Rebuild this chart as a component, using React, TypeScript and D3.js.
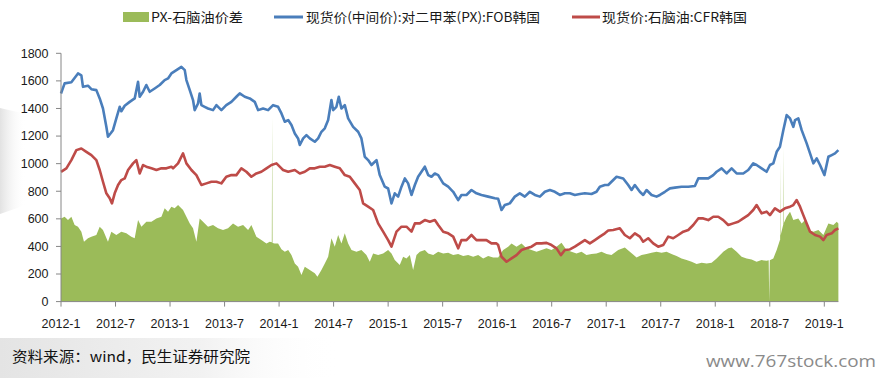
import React from 'react';
import * as d3 from 'd3';

// Month offsets since 2012-01 for tick labels
const xTickMonths = [0, 6, 12, 18, 24, 30, 36, 42, 48, 54, 60, 66, 72, 78, 84];
const xTickLabels = ['2012-1', '2012-7', '2013-1', '2013-7', '2014-1', '2014-7', '2015-1', '2015-7', '2016-1', '2016-7', '2017-1', '2017-7', '2018-1', '2018-7', '2019-1'];
const yTicks = [0, 200, 400, 600, 800, 1000, 1200, 1400, 1600, 1800];

const legendLabels = ['PX-石脑油价差', '现货价(中间价):对二甲苯(PX):FOB韩国', '现货价:石脑油:CFR韩国'];
const sourceText = '资料来源：wind，民生证券研究院';
const watermarkText = 'www.767stock.com';

// [month offset since 2012-01, value]
const spreadSeries: [number, number][] = [
  [0, 603], [0.4, 615], [0.77, 591], [1.14, 615], [1.5, 555], [1.87, 543], [2.24, 507], [2.53, 434], [2.97, 459], [3.34, 471], [3.89, 483], [4.26, 543], [4.62, 519], [5.17, 434], [5.54, 507], [6.09, 483], [6.64, 507], [7.19, 495], [7.74, 471], [8.11, 459], [8.48, 591], [8.85, 543], [9.39, 579], [9.95, 579], [10.5, 603], [11.05, 615], [11.41, 676], [11.78, 652], [12.15, 688], [12.51, 676], [12.88, 700], [13.43, 664], [13.8, 615], [14.17, 567], [14.53, 531], [14.9, 434], [15.26, 603], [15.63, 579], [16.18, 543], [16.73, 555], [17.28, 531], [17.83, 519], [18.38, 531], [18.93, 567], [19.48, 543], [20.04, 555], [20.59, 519], [20.95, 555], [21.5, 471], [22.05, 446], [22.61, 422], [22.97, 434], [23.2, 430], [23.24, 1340], [23.28, 425], [23.52, 422], [23.89, 422], [24.26, 380], [24.63, 362], [25.0, 374], [25.36, 337], [25.73, 277], [26.09, 253], [26.46, 193], [26.83, 253], [27.38, 229], [27.93, 205], [28.22, 181], [28.66, 229], [29.03, 277], [29.4, 325], [29.76, 459], [30.13, 398], [30.5, 483], [30.86, 422], [31.23, 495], [31.6, 422], [31.97, 374], [32.51, 362], [33.06, 374], [33.61, 337], [33.98, 289], [34.35, 349], [34.9, 337], [35.45, 349], [36.0, 374], [36.37, 349], [36.73, 301], [37.28, 265], [37.65, 325], [38.02, 313], [38.39, 337], [38.75, 229], [39.12, 337], [39.49, 362], [40.04, 374], [40.41, 349], [40.96, 337], [41.51, 362], [42.06, 349], [42.61, 354], [43.16, 337], [43.71, 345], [44.26, 330], [44.81, 337], [45.36, 325], [45.91, 337], [46.46, 313], [47.01, 330], [47.56, 320], [48.11, 320], [48.66, 374], [49.21, 398], [49.58, 422], [50.13, 398], [50.68, 422], [51.23, 386], [51.78, 374], [52.33, 362], [52.88, 374], [53.43, 386], [53.98, 374], [54.53, 398], [55.08, 426], [55.63, 374], [56.18, 362], [56.73, 349], [57.28, 362], [57.83, 337], [58.38, 345], [58.93, 349], [59.48, 362], [60.04, 345], [60.58, 337], [61.32, 374], [62.05, 393], [62.6, 362], [63.34, 320], [63.89, 337], [64.44, 345], [64.99, 354], [65.54, 362], [66.09, 354], [66.64, 362], [67.19, 345], [67.74, 330], [68.29, 313], [68.84, 301], [69.4, 289], [69.95, 272], [70.5, 282], [71.05, 277], [71.6, 282], [72.15, 313], [72.7, 349], [72.88, 362], [73.43, 386], [73.8, 393], [74.35, 362], [74.9, 325], [75.45, 313], [76.0, 306], [76.55, 289], [77.1, 301], [77.65, 296], [77.88, 300], [77.94, 0], [78.0, 300], [78.39, 313], [78.76, 374], [79.12, 446], [79.14, 446], [79.16, 1014], [79.19, 480], [79.49, 560], [79.52, 1122], [79.55, 570], [79.86, 615], [80.23, 652], [80.59, 591], [81.14, 603], [81.51, 567], [81.88, 591], [82.25, 519], [82.8, 507], [83.35, 519], [83.9, 483], [84.45, 567], [85.0, 555], [85.37, 579], [85.55, 567],
];

const pxSeries: [number, number][] = [
  [0, 1509], [0.4, 1582], [1.14, 1590], [1.87, 1654], [2.24, 1640], [2.42, 1557], [2.97, 1565], [3.34, 1540], [3.89, 1533], [4.26, 1473], [4.62, 1400], [4.99, 1267], [5.17, 1195], [5.47, 1220], [5.72, 1243], [6.09, 1328], [6.46, 1412], [6.64, 1380], [7.01, 1420], [7.56, 1448], [8.11, 1473], [8.48, 1593], [8.66, 1485], [9.03, 1521], [9.39, 1570], [9.76, 1521], [10.31, 1545], [10.86, 1570], [11.41, 1606], [11.78, 1618], [12.15, 1654], [12.7, 1678], [13.25, 1702], [13.62, 1678], [13.8, 1606], [14.17, 1533], [14.53, 1461], [14.71, 1388], [15.08, 1436], [15.26, 1509], [15.45, 1424], [15.81, 1412], [16.18, 1400], [16.73, 1388], [17.1, 1424], [17.65, 1388], [18.19, 1424], [18.75, 1448], [19.3, 1485], [19.67, 1509], [20.22, 1485], [20.77, 1473], [21.32, 1448], [21.69, 1388], [22.24, 1400], [22.79, 1388], [23.34, 1424], [23.89, 1412], [24.26, 1364], [24.63, 1304], [25.0, 1316], [25.36, 1280], [25.73, 1219], [26.09, 1183], [26.28, 1135], [26.65, 1183], [27.01, 1207], [27.38, 1183], [27.93, 1159], [28.3, 1183], [28.66, 1231], [29.03, 1256], [29.4, 1316], [29.76, 1461], [29.95, 1388], [30.31, 1412], [30.57, 1485], [30.86, 1400], [31.23, 1424], [31.6, 1328], [32.15, 1267], [32.7, 1231], [33.06, 1183], [33.43, 1050], [33.8, 1026], [34.17, 990], [34.72, 1026], [35.08, 917], [35.63, 833], [36.0, 820], [36.37, 712], [36.73, 785], [37.1, 761], [37.47, 833], [37.84, 893], [38.2, 857], [38.57, 773], [38.94, 845], [39.3, 905], [39.67, 941], [40.04, 978], [40.41, 917], [40.77, 905], [41.14, 929], [41.51, 917], [42.06, 857], [42.61, 833], [43.16, 796], [43.71, 736], [44.07, 773], [44.62, 773], [45.17, 809], [45.72, 785], [46.27, 773], [47.01, 761], [47.74, 749], [48.11, 745], [48.48, 664], [48.84, 700], [49.39, 712], [49.94, 761], [50.49, 785], [51.04, 761], [51.6, 796], [52.15, 773], [52.7, 761], [53.25, 796], [53.8, 809], [54.35, 796], [54.9, 773], [55.45, 785], [56.0, 785], [56.55, 773], [57.1, 780], [57.65, 785], [58.38, 780], [58.93, 796], [59.3, 833], [59.85, 845], [60.22, 845], [60.58, 869], [61.14, 905], [61.87, 893], [62.42, 845], [62.79, 809], [63.15, 845], [63.7, 796], [64.07, 773], [64.44, 809], [64.99, 773], [65.54, 761], [65.91, 773], [66.46, 796], [67.01, 821], [67.56, 826], [68.29, 833], [69.03, 833], [69.76, 838], [70.13, 893], [70.68, 893], [71.23, 893], [71.78, 917], [72.15, 941], [72.7, 966], [73.25, 929], [73.8, 966], [74.35, 929], [75.08, 929], [75.63, 954], [76.18, 1002], [76.55, 990], [77.1, 966], [77.65, 941], [78.02, 990], [78.39, 1002], [78.76, 1086], [79.12, 1122], [79.49, 1243], [79.86, 1352], [80.23, 1328], [80.59, 1267], [80.78, 1316], [81.14, 1328], [81.51, 1243], [82.06, 1147], [82.43, 1074], [82.8, 1002], [83.16, 1038], [83.53, 990], [84.01, 917], [84.45, 1050], [84.82, 1062], [85.18, 1074], [85.55, 1098],
];

const naphthaSeries: [number, number][] = [
  [0, 941], [0.59, 966], [1.14, 1026], [1.69, 1098], [2.24, 1110], [2.79, 1086], [3.34, 1062], [3.89, 1026], [4.26, 954], [4.62, 869], [4.99, 785], [5.36, 749], [5.61, 712], [5.91, 785], [6.28, 845], [6.64, 881], [7.01, 893], [7.38, 954], [7.93, 1002], [8.29, 1026], [8.66, 929], [9.03, 990], [9.39, 978], [9.95, 966], [10.5, 954], [11.05, 966], [11.6, 966], [12.15, 978], [12.33, 966], [12.88, 1002], [13.43, 1074], [13.8, 1002], [14.35, 954], [14.9, 917], [15.45, 845], [16.0, 857], [16.55, 869], [17.1, 869], [17.65, 857], [18.19, 905], [18.75, 917], [19.3, 917], [19.85, 966], [20.4, 941], [20.95, 905], [21.5, 929], [22.05, 941], [22.61, 966], [23.16, 990], [23.71, 1002], [24.26, 966], [24.44, 954], [25.0, 941], [25.73, 954], [26.28, 929], [26.83, 941], [27.38, 966], [27.93, 966], [28.48, 978], [29.03, 978], [29.58, 990], [30.13, 978], [30.68, 966], [31.23, 917], [31.78, 905], [32.33, 857], [32.88, 809], [33.25, 712], [33.8, 688], [34.35, 664], [34.9, 567], [35.45, 507], [36.0, 446], [36.37, 398], [36.92, 507], [37.47, 543], [38.02, 543], [38.57, 507], [38.94, 567], [39.49, 567], [40.04, 591], [40.59, 579], [41.14, 591], [41.51, 555], [42.06, 507], [42.61, 495], [43.16, 471], [43.71, 386], [44.07, 446], [44.62, 446], [45.17, 483], [45.72, 446], [46.27, 446], [46.82, 446], [47.37, 422], [47.92, 422], [48.11, 410], [48.48, 325], [49.03, 289], [49.58, 313], [50.13, 337], [50.68, 374], [51.23, 386], [51.78, 398], [52.33, 422], [52.88, 422], [53.43, 426], [53.98, 410], [54.53, 386], [55.01, 337], [55.45, 374], [56.0, 378], [56.55, 398], [57.1, 422], [57.65, 446], [58.2, 422], [58.75, 446], [59.3, 471], [59.85, 495], [60.22, 515], [60.77, 519], [61.5, 531], [62.05, 483], [62.6, 459], [63.15, 495], [63.7, 471], [64.07, 434], [64.62, 459], [65.17, 422], [65.72, 398], [66.27, 410], [66.82, 471], [67.37, 459], [67.93, 483], [68.48, 507], [69.03, 519], [69.58, 555], [70.13, 603], [70.68, 603], [71.23, 591], [71.78, 615], [72.33, 615], [72.88, 591], [73.43, 555], [73.98, 567], [74.53, 579], [75.08, 603], [75.63, 627], [76.18, 664], [76.55, 700], [77.1, 640], [77.65, 652], [78.02, 627], [78.57, 676], [79.12, 652], [79.67, 676], [80.23, 688], [80.59, 700], [80.96, 736], [81.33, 688], [81.69, 627], [82.06, 567], [82.43, 507], [82.98, 483], [83.53, 471], [83.9, 446], [84.26, 483], [84.82, 495], [85.18, 519], [85.55, 531],
];

const GREEN = '#9BBB59';
const BLUE = '#4A7EBB';
const RED = '#BE4B48';
const AXIS = '#868686';

export default function App() {
  const x = d3.scaleLinear().domain([0, 84]).range([61, 824.3]);
  const y = d3.scaleLinear().domain([0, 1800]).range([301.6, 53.3]);

  const area = d3.area<[number, number]>().x(d => x(d[0])).y0(y(0)).y1(d => y(d[1]));
  const line = d3.line<[number, number]>().x(d => x(d[0])).y(d => y(d[1]));
  const xEnd = x(85.55);

  const tickFont = '"Liberation Sans", Arial, sans-serif';
  const cjkFont = '"Noto Sans CJK SC", "Noto Sans", sans-serif';

  return (
    <svg width={884} height={378} style={{ position: 'absolute', left: 0, top: 0, background: '#fff' }}>
      <defs>
        <linearGradient id="bgL" x1="0" y1="0" x2="1" y2="0">
          <stop offset="0" stopColor="#e2e2e2" />
          <stop offset="1" stopColor="#ffffff" stopOpacity="0" />
        </linearGradient>
        <linearGradient id="bgB" x1="0" y1="0" x2="1" y2="0">
          <stop offset="0" stopColor="#e4e4e4" />
          <stop offset="0.6" stopColor="#f2f2f2" />
          <stop offset="1" stopColor="#ffffff" stopOpacity="0" />
        </linearGradient>
      </defs>
      <polygon points="0,108 26,114 26,205 0,214" fill="url(#bgL)" />
      <rect x={0} y={338} width={340} height={40} fill="url(#bgB)" />

      <path d={area(spreadSeries) || ''} fill={GREEN} />
      <path d={line(pxSeries) || ''} fill="none" stroke={BLUE} strokeWidth={2.6} strokeLinejoin="round" />
      <path d={line(naphthaSeries) || ''} fill="none" stroke={RED} strokeWidth={2.6} strokeLinejoin="round" />

      {/* y axis */}
      <line x1={x(0)} x2={x(0)} y1={y(1800)} y2={y(0)} stroke={AXIS} strokeWidth={1} />
      {yTicks.map(t => (
        <g key={t}>
          <line x1={x(0) - 5} x2={x(0)} y1={y(t)} y2={y(t)} stroke={AXIS} />
          <text x={48.5} y={y(t)} dy="0.35em" textAnchor="end" fontSize={12.5} fontFamily={tickFont} fill="#1a1a1a">{t}</text>
        </g>
      ))}
      {/* x axis */}
      <line x1={x(0)} x2={xEnd} y1={y(0)} y2={y(0)} stroke={AXIS} strokeWidth={1} />
      {xTickMonths.map((m, i) => (
        <g key={m}>
          <line x1={x(m)} x2={x(m)} y1={y(0)} y2={y(0) + 5} stroke={AXIS} />
          <text x={x(m)} y={327.5} textAnchor="middle" fontSize={12.5} fontFamily={tickFont} fill="#1a1a1a">{xTickLabels[i]}</text>
        </g>
      ))}

      {/* legend */}
      <rect x={123} y={12} width={26} height={10} fill={GREEN} />
      <text x={151} y={21.5} fontSize={13} fontFamily={cjkFont} fill="#1a1a1a" textLength={92} lengthAdjust="spacingAndGlyphs">{legendLabels[0]}</text>
      <line x1={274} x2={303} y1={17} y2={17} stroke={BLUE} strokeWidth={3} />
      <text x={306} y={21.5} fontSize={13} fontFamily={cjkFont} fill="#1a1a1a" textLength={234} lengthAdjust="spacingAndGlyphs">{legendLabels[1]}</text>
      <line x1={572} x2={600} y1={17} y2={17} stroke={RED} strokeWidth={3} />
      <text x={602} y={21.5} fontSize={13} fontFamily={cjkFont} fill="#1a1a1a" textLength={145} lengthAdjust="spacingAndGlyphs">{legendLabels[2]}</text>

      {/* footer */}
      <text x={12} y={362} fontSize={14.5} fontFamily={cjkFont} fill="#111" textLength={238} lengthAdjust="spacingAndGlyphs">{sourceText}</text>
      <text x={706} y={367} fontSize={16.5} fontFamily={'"Open Sans", sans-serif'} fill="#8a8a8a" textLength={170} lengthAdjust="spacingAndGlyphs">{watermarkText}</text>
    </svg>
  );
}
